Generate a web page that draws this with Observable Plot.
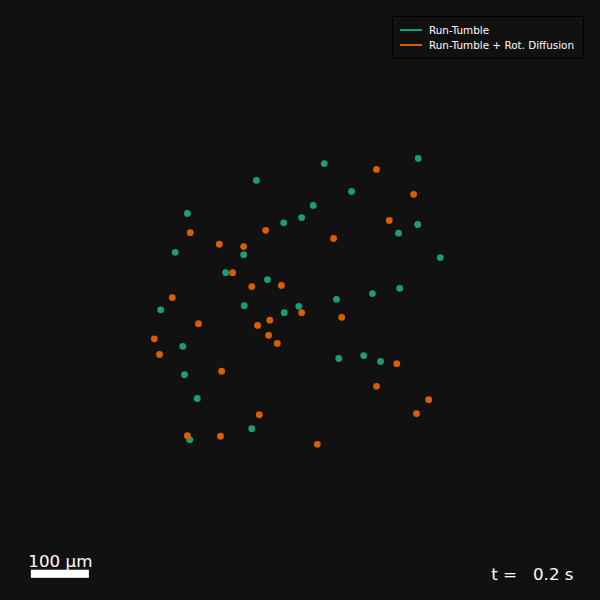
<!DOCTYPE html>
<html><head><meta charset="utf-8">
<script src="https://cdn.jsdelivr.net/npm/d3@7"></script>
<script src="https://cdn.jsdelivr.net/npm/@observablehq/plot@0.6"></script>
<style>
html,body{margin:0;padding:0;background:#111111;}
#wrap{position:relative;width:600px;height:600px;overflow:hidden;}
#legend{position:absolute;left:392px;top:16px;width:192px;height:43px;border:1px solid #000;background:#111111;box-sizing:border-box;font-family:"DejaVu Sans";font-size:10.4px;color:#ffffff;}
#legend .row{position:absolute;left:7px;height:12px;white-space:nowrap;}
#legend .sw{position:absolute;left:0;top:5px;width:22px;height:2px;}
#legend .lbl{position:absolute;left:29px;top:0;line-height:12px;}
</style>
</head><body>
<div id="wrap"></div>
<script>
// Particle positions (µm) at t = 0.2 s
const runTumbleX = [41,203,-76,88,-195,22,2,-29,202,169,-216,-98,241,-129,-57,62,124,171,-241,-97,-3,-28,-203,66,109,138,-200,-178,-84,-191];
const runTumbleY = [236,245,207,188,150,164,143,134,131,116,83,79,74,48,36,2,12,21,-16,-9,-10,-21,-79,-100,-95,-105,-128,-169,-221,-240];
const rotDiffX = [131,195,153,57,-190,-60,-140,-98,-117,-84,-33,-221,-176,-252,-243,-136,-74,-53,-55,-40,2,71,166,131,221,200,29,-71,-195,-138];
const rotDiffY = [226,183,138,107,117,121,97,93,48,24,26,5,-40,-66,-93,-122,-43,-34,-60,-74,-21,-29,-109,-148,-171,-195,-248,-197,-233,-234];
const seriesNames = ["Run-Tumble","Run-Tumble + Rot. Diffusion"];
const seriesColors = ["#1b9e77","#d95f02"];
const scaleBarLength = 100; // µm
const scaleBarStart = -464;
const scaleBarLabel = "100 µm";
const timeLabel = "t =\u00a0\u00a0 0.2 s";
const boxHalf = 500;

const pts = [];
runTumbleX.forEach((x,i)=>pts.push({x, y: runTumbleY[i], s: seriesNames[0]}));
rotDiffX.forEach((x,i)=>pts.push({x, y: rotDiffY[i], s: seriesNames[1]}));

const bar = [{x1: scaleBarStart, x2: scaleBarStart + scaleBarLength, y1: -479, y2: -465}];

const chart = Plot.plot({
  width: 600, height: 600,
  margin: 10,
  x: {domain: [-boxHalf, boxHalf], axis: null},
  y: {domain: [-boxHalf, boxHalf], axis: null},
  color: {domain: seriesNames, range: seriesColors},
  style: {background: "#111111", fontFamily: "DejaVu Sans"},
  marks: [
    Plot.dot(pts, {x: "x", y: "y", fill: "s", r: 3.4, stroke: null}),
    Plot.rect(bar, {x1: "x1", x2: "x2", y1: "y1", y2: "y2", fill: "#ffffff"}),
    Plot.text(bar, {x: d => (d.x1 + d.x2) / 2, y: "y2", text: () => scaleBarLabel, fill: "#ffffff", fontSize: 16.7, dy: -8.5, textAnchor: "middle", lineAnchor: "middle"}),
    Plot.text([timeLabel], {frameAnchor: "bottom-right", text: d => d, fill: "#ffffff", fontSize: 16.7, dx: -17, dy: -16, textAnchor: "end", lineAnchor: "middle"})
  ]
});
document.getElementById("wrap").appendChild(chart);

const legend = document.createElement("div");
legend.id = "legend";
seriesNames.forEach((name, i) => {
  const row = document.createElement("div");
  row.className = "row";
  row.style.top = (7 + i * 15) + "px";
  const sw = document.createElement("div");
  sw.className = "sw";
  sw.style.background = seriesColors[i];
  const t = document.createElement("div");
  t.className = "lbl";
  t.textContent = name;
  row.appendChild(sw); row.appendChild(t);
  legend.appendChild(row);
});
document.getElementById("wrap").appendChild(legend);
</script>
</body></html>
